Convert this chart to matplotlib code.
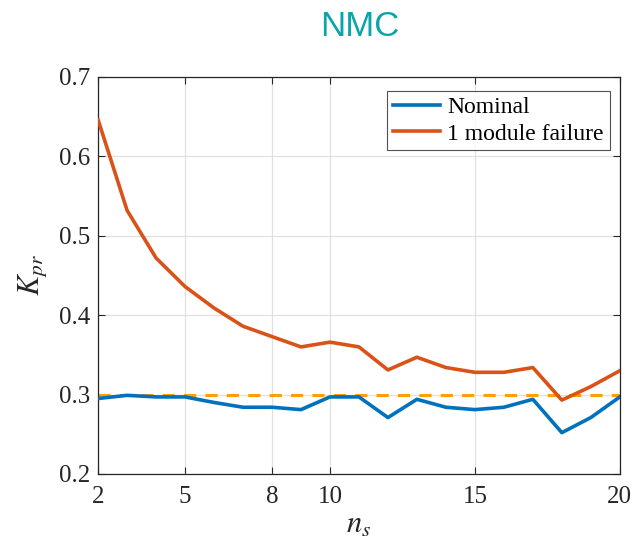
import matplotlib
matplotlib.use("Agg")
import matplotlib.pyplot as plt


n_s = list(range(2, 21))

k_nominal = [
    0.295, 0.299, 0.297, 0.297, 0.290, 0.284, 0.284, 0.281, 0.297, 0.297,
    0.271, 0.294, 0.284, 0.281, 0.284, 0.294, 0.252, 0.271, 0.297
]

k_failure = [
    0.646, 0.532, 0.472, 0.436, 0.409, 0.386, 0.373, 0.360, 0.366, 0.360,
    0.331, 0.347, 0.334, 0.328, 0.328, 0.334, 0.293, 0.310, 0.330
]

threshold = 0.3

x_ticks = [2, 5, 8, 10, 15, 20]
y_ticks = [0.2, 0.3, 0.4, 0.5, 0.6, 0.7]


plt.rcParams["font.family"] = "Liberation Serif"
plt.rcParams["mathtext.fontset"] = "stix"

fig = plt.figure(figsize=(6.37, 5.46), dpi=100)
ax = fig.add_axes([0.154, 0.132, 0.819, 0.727])

# threshold line
ax.axhline(
    threshold,
    color="#FFA000",
    linestyle=(0, (4, 3)),
    linewidth=2.2,
    zorder=2
)

ax.plot(n_s, k_nominal, color="#0072BD", linewidth=2.6, label="Nominal", zorder=3)
ax.plot(n_s, k_failure, color="#D95319", linewidth=2.6, label="1 module failure", zorder=3)

ax.set_xlim(2, 20)
ax.set_ylim(0.2, 0.7)
ax.set_xticks(x_ticks)
ax.set_yticks(y_ticks)
ax.set_yticklabels([f"{v:.1f}" for v in y_ticks])

ax.grid(True, color="#E0E0E0", linewidth=0.9)
ax.set_axisbelow(True)

ax.tick_params(direction="in", labelsize=18, length=5, top=True, right=True,
               color="#262626", labelcolor="#262626")
ax.tick_params(axis="x", pad=9)
ax.tick_params(axis="y", pad=6)
for spine in ax.spines.values():
    spine.set_color("#262626")
    spine.set_linewidth(0.9)

ax.set_xlabel(r"$n_s$", fontsize=22, color="#262626", labelpad=2)
ax.set_ylabel(r"$K_{pr}$", fontsize=22, color="#262626", labelpad=7)

legend = ax.legend(
    loc="upper right",
    bbox_to_anchor=(0.981, 0.965),
    fontsize=17,
    frameon=True,
    fancybox=False,
    edgecolor="#262626",
    handlelength=2.0,
    handletextpad=0.3,
    borderpad=0.25,
    labelspacing=0.2,
    borderaxespad=0.0
)
legend.get_frame().set_linewidth(0.8)

fig.text(0.564, 0.952, "NMC", ha="center", va="center",
         fontsize=25, color="#0AA5A8", family="Liberation Sans")

fig.savefig("out.png", dpi=100)
